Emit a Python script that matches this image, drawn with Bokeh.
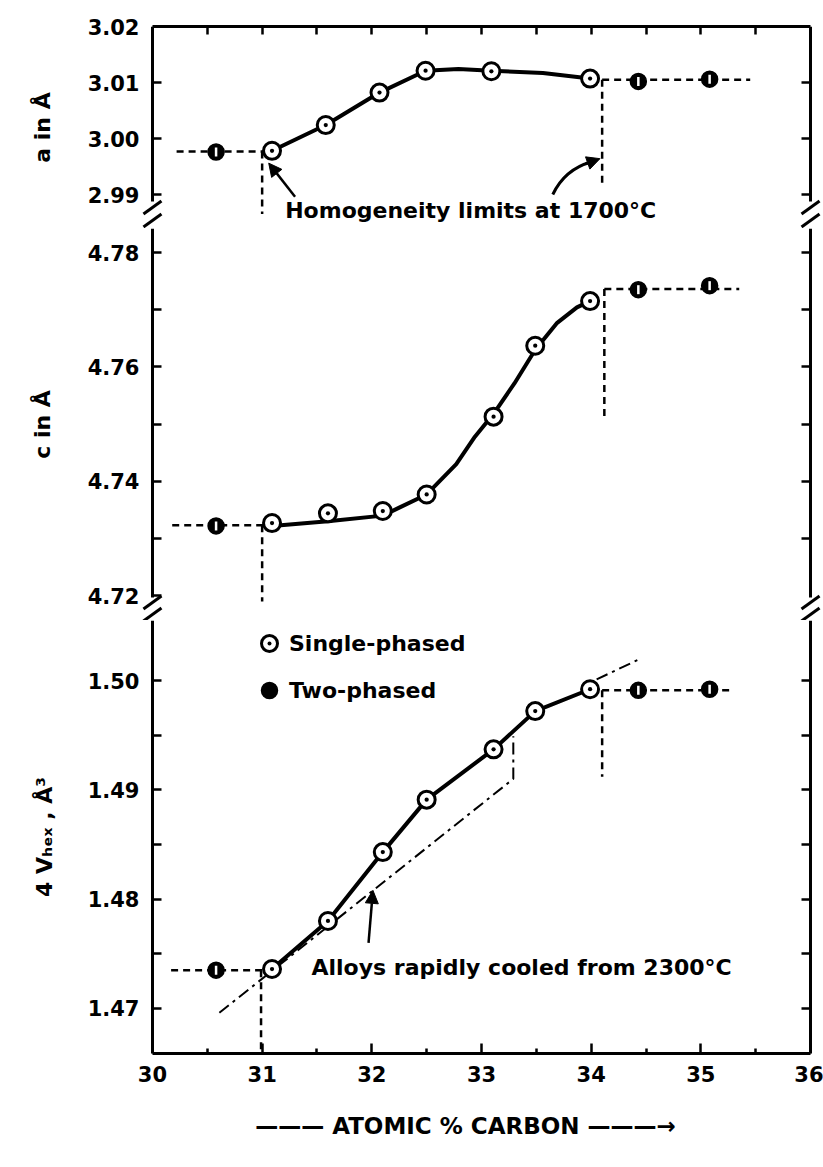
import numpy as np
from bokeh.plotting import figure
from bokeh.models import (Range1d, LinearAxis, FixedTicker, Label, Arrow, NormalHead,
                          Legend, LegendItem, PrintfTickFormatter, CustomJSTickFormatter)
from bokeh.layouts import column
from bokeh.embed import file_html
from bokeh.resources import INLINE

FONT = "DejaVu Sans"

# ---------------- data ----------------
x_ticks = [30, 31, 32, 33, 34, 35, 36]
x_minor = [30.5, 31.5, 32.5, 33.5, 34.5, 35.5]

# panel a
x_single_a = [31.09, 31.58, 32.07, 32.49, 33.09, 33.99]
a_single = [2.9978, 3.0024, 3.0082, 3.0121, 3.0120, 3.0107]
x_two = [30.58, 34.43, 35.08]
a_two = [2.9976, 3.0102, 3.0106]
a_ticks = [2.99, 3.00, 3.01, 3.02]
# hand-drawn curve through panel a
a_curve_x = [31.09, 31.58, 32.07, 32.49, 32.79, 33.09, 33.56, 33.99]
a_curve_y = [2.9978, 3.0024, 3.0082, 3.0121, 3.0124, 3.0121, 3.0117, 3.0107]

# panel c
x_single = [31.09, 31.60, 32.10, 32.50, 33.11, 33.49, 33.99]
c_single = [4.7327, 4.7344, 4.7348, 4.7377, 4.7513, 4.7637, 4.7715]
c_two = [4.7322, 4.7735, 4.7742]
c_ticks = [4.72, 4.74, 4.76, 4.78]
c_minor = [4.73, 4.75, 4.77]
c_right_ticks = [4.73, 4.74, 4.75, 4.76, 4.77, 4.78]
# hand-drawn curve through panel c
c_curve_x = [31.09, 31.60, 32.10, 32.25, 32.50, 32.77, 32.94, 33.11, 33.30, 33.49, 33.69, 33.87, 33.99]
c_curve_y = [4.7322, 4.7330, 4.7340, 4.7354, 4.7377, 4.7430, 4.7478, 4.7518, 4.7571, 4.7630,
             4.7677, 4.7704, 4.7715]

# panel V
v_single = [1.4736, 1.4780, 1.4843, 1.4891, 1.4937, 1.4972, 1.4992]
v_two = [1.4735, 1.4991, 1.4992]
v_ticks = [1.47, 1.48, 1.49, 1.50]
v_minor = [1.475, 1.485, 1.495]
v_right_ticks = [1.47, 1.475, 1.48, 1.485, 1.49, 1.495, 1.50]

# homogeneity limits (dashed guides)
a_guides_x = [[30.22, 31.09], [31.0, 31.0], [34.1, 35.45], [34.1, 34.1]]
a_guides_y = [[2.9977, 2.9977], [2.9977, 2.9865], [3.0105, 3.0105], [3.0105, 2.9919]]
c_guides_x = [[30.18, 31.09], [31.0, 31.0], [34.12, 35.35], [34.12, 34.12]]
c_guides_y = [[4.7323, 4.7323], [4.7323, 4.7190], [4.7736, 4.7736], [4.7736, 4.7506]]
v_guides_x = [[30.17, 31.08], [30.99, 30.99], [34.1, 35.3], [34.1, 34.1]]
v_guides_y = [[1.4735, 1.4735], [1.4735, 1.4659], [1.4991, 1.4991], [1.4991, 1.4912]]

# rapidly cooled alloys (dash-dot)
q_x = [[30.61, 33.29, 33.29], [34.05, 34.45]]
q_y = [[1.4696, 1.4910, 1.4949], [1.5001, 1.5020]]

# ---------------- layout ----------------
X0, X1 = 30, 36
XR = Range1d(29.9, 36.1)
PXU = 680 / 6.2            # pixels per x unit
A_S, C_S, V_S = 5600, 5720, 10930   # pixels per y unit in the three panels


def make_fig(h, y0, y1, top, bottom):
    p = figure(width=823, height=h, x_range=XR, y_range=Range1d(y0, y1),
               output_backend="svg", toolbar_location=None,
               x_axis_location=None, y_axis_location=None,
               min_border_left=141, min_border_right=2,
               min_border_top=top, min_border_bottom=bottom)
    p.outline_line_color = None
    p.background_fill_color = "white"
    p.border_fill_color = "white"
    p.grid.visible = False
    return p


def axis(p, side, ticks, minor=(), tick_in=9, minor_in=9, labels=True, fmt="%.2f",
         loc=None, bounds="auto"):
    ax = LinearAxis(ticker=FixedTicker(ticks=list(ticks), minor_ticks=list(minor)))
    ax.axis_line_width = 3
    ax.axis_line_color = "black"
    ax.major_tick_in = tick_in
    ax.major_tick_out = 0
    ax.minor_tick_in = minor_in
    ax.minor_tick_out = 0
    ax.major_tick_line_width = 2.5
    ax.minor_tick_line_width = 2.5
    ax.bounds = bounds
    if loc is not None:
        ax.fixed_location = loc
    if labels:
        ax.formatter = PrintfTickFormatter(format=fmt)
        ax.major_label_text_font = FONT
        ax.major_label_text_font_style = "bold"
        ax.major_label_text_font_size = "21px"
        ax.major_label_text_color = "black"
        ax.major_label_standoff = 10
    else:
        ax.formatter = CustomJSTickFormatter(code="return ''")
        ax.major_label_text_color = None
        ax.major_label_standoff = 0
    ax.axis_label_text_font = FONT
    ax.axis_label_text_font_style = "bold"
    ax.axis_label_text_font_size = "22px"
    ax.axis_label_text_color = "black"
    p.add_layout(ax, side)
    return ax


def label_axis(p, ticks, text, bounds="auto"):
    """Tick labels and title of a y axis, at the frame edge; the axis line
    itself is drawn by an axis fixed at x = 30."""
    ax = LinearAxis(ticker=FixedTicker(ticks=list(ticks)), formatter=PrintfTickFormatter(format="%.2f"))
    ax.axis_line_color = None
    ax.major_tick_line_color = None
    ax.minor_tick_line_color = None
    ax.major_tick_in = 0
    ax.major_tick_out = 0
    ax.bounds = bounds
    ax.major_label_text_font = FONT
    ax.major_label_text_font_style = "bold"
    ax.major_label_text_font_size = "21px"
    ax.major_label_text_color = "black"
    ax.major_label_standoff = 2
    ax.axis_label = text
    ax.axis_label_standoff = 30
    ax.axis_label_text_font = FONT
    ax.axis_label_text_font_style = "bold"
    ax.axis_label_text_font_size = "22px"
    ax.axis_label_text_color = "black"
    p.add_layout(ax, "left")
    return ax


def markers(p, xs, ys_single, xt, ys_two):
    ring = p.scatter(xs, ys_single, marker="circle_dot", size=17, fill_color="white",
                     line_color="black", line_width=3)
    two = p.scatter(xt, ys_two, marker="circle", size=16, fill_color="black",
                    line_color="black", line_width=1.5)
    two_w = p.scatter(xt, ys_two, marker="dash", angle=np.pi / 2, size=9,
                      line_color="white", line_width=2.5)
    return ring, two, two_w


def breaks(p, ycs, scale):
    dx, dy = 9 / PXU, 6.5 / scale
    x0, y0, x1, y1 = [], [], [], []
    for xc in (X0, X1):
        for yc in ycs:
            x0.append(xc - dx); y0.append(yc - dy)
            x1.append(xc + dx); y1.append(yc + dy)
    p.segment(x0=x0, y0=y0, x1=x1, y1=y1, line_color="black", line_width=3)


# ---- top: a ----
A_TOP = 3.02
pa = make_fig(228, A_TOP - 202 / A_S, A_TOP, 26, 0)
axis(pa, "above", x_minor + x_ticks[1:-1], tick_in=8, labels=False, bounds=(X0, X1))
a_lo = A_TOP - 175 / A_S
label_axis(pa, a_ticks, "a in Å", bounds=(a_lo, A_TOP))
axis(pa, "left", a_ticks, labels=False, loc=X0, bounds=(a_lo, A_TOP))
axis(pa, "right", a_ticks[:-1], labels=False, loc=X1, bounds=(a_lo, A_TOP))
pa.multi_line(a_guides_x, a_guides_y, line_color="black", line_width=2.5, line_dash="7 5")
pa.line(a_curve_x, a_curve_y, line_color="black", line_width=4, line_join="round")
markers(pa, x_single_a, a_single, x_two, a_two)
pa.add_layout(Label(x=31.21, y=2.9871, text="Homogeneity limits at 1700°C", text_font=FONT,
                    text_font_style="bold", text_font_size="22px", text_baseline="middle",
                    text_color="black"))
pa.add_layout(Arrow(end=NormalHead(size=13, fill_color="black", line_color="black"),
                    x_start=31.30, y_start=2.9896, x_end=31.06, y_end=2.9956,
                    line_width=2.5, line_color="black"))
pa.quadratic(x0=[33.65], y0=[2.9900], x1=[34.00], y1=[2.9958], cx=[33.76], cy=[2.9945],
             line_color="black", line_width=3)
pa.add_layout(Arrow(end=NormalHead(size=13, fill_color="black", line_color="black"),
                    x_start=33.95, y_start=2.9955, x_end=34.08, y_end=2.9964,
                    line_width=3, line_color="black"))
breaks(pa, [A_TOP - 181 / A_S, A_TOP - 194 / A_S], A_S)

# ---- middle: c ----
C_REF = 4.78
pc = make_fig(392, C_REF - 368 / C_S, C_REF + 24 / C_S, 0, 0)
c_lo = C_REF - 345 / C_S
c_hi = C_REF + 24 / C_S
label_axis(pc, c_ticks, "c in Å", bounds=(c_lo, c_hi))
axis(pc, "left", c_ticks, c_minor, labels=False, loc=X0, bounds=(c_lo, c_hi))
axis(pc, "right", c_right_ticks, labels=False, loc=X1, bounds=(c_lo, c_hi))
pc.multi_line(c_guides_x, c_guides_y, line_color="black", line_width=2.5, line_dash="7 5")
pc.line(c_curve_x, c_curve_y, line_color="black", line_width=4, line_join="round")
markers(pc, x_single, c_single, x_two, c_two)
breaks(pc, [C_REF - 350 / C_S, C_REF - 362 / C_S], C_S)

# ---- bottom: V ----
V_REF = 1.50
pv = make_fig(547, V_REF - 373 / V_S, V_REF + 60 / V_S, 0, 114)
bx = axis(pv, "below", x_ticks, x_minor, tick_in=10, minor_in=5, fmt="%d", bounds=(X0, X1))
bx.major_label_standoff = 12
bx.axis_label = "———  ATOMIC  %  CARBON  ———→"
bx.axis_label_text_font_size = "23px"
bx.axis_label_standoff = 28
lbl = label_axis(pv, v_ticks, "4 Vₕₑₓ , Å³")
lbl.axis_label_standoff = 28
axis(pv, "left", v_ticks, v_minor, labels=False, loc=X0)
axis(pv, "right", v_right_ticks, labels=False, loc=X1)
pv.multi_line(v_guides_x, v_guides_y, line_color="black", line_width=2.5, line_dash="7 5")
pv.multi_line(q_x, q_y, line_color="black", line_width=2, line_dash="12 5 3 5")
pv.line(x_single, v_single, line_color="black", line_width=4, line_join="round")
ring, two, two_w = markers(pv, x_single, v_single, x_two, v_two)
pv.add_layout(Label(x=31.45, y=1.4737, text="Alloys rapidly cooled from 2300°C", text_font=FONT,
                    text_font_style="bold", text_font_size="22px", text_baseline="middle",
                    text_color="black"))
pv.add_layout(Arrow(end=NormalHead(size=13, fill_color="black", line_color="black"),
                    x_start=31.97, y_start=1.4760, x_end=32.01, y_end=1.4808,
                    line_width=2.5, line_color="black"))
legend = Legend(items=[LegendItem(label="Single-phased", renderers=[ring]),
                       LegendItem(label="Two-phased", renderers=[two])],
                location=(108, 343), border_line_color=None, background_fill_alpha=0,
                label_text_font=FONT, label_text_font_style="bold", label_text_font_size="22px",
                label_text_color="black",
                glyph_width=40, glyph_height=40, label_height=40, spacing=7, padding=0,
                margin=0, label_standoff=0)
pv.add_layout(legend)

layout = column(pa, pc, pv, spacing=0)
open("out.html", "w").write(file_html(layout, INLINE))
